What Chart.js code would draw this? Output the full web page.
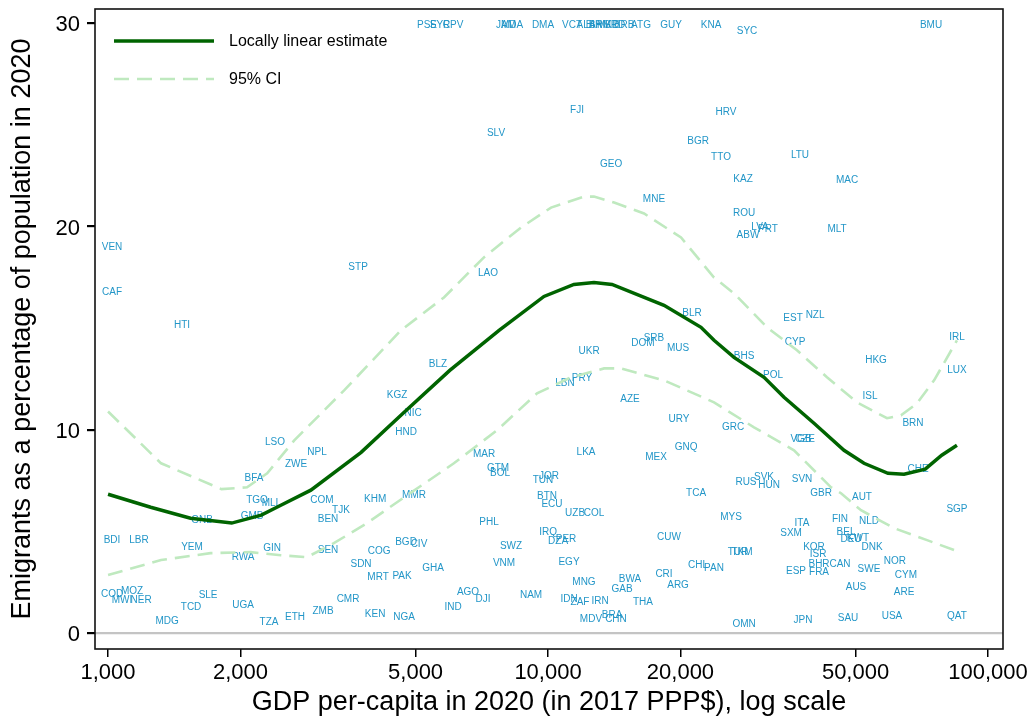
<!DOCTYPE html>
<html>
<head>
<meta charset="utf-8">
<script src="https://cdn.jsdelivr.net/npm/chart.js@4.4.1/dist/chart.umd.min.js"></script>
<style>
  html, body { margin: 0; padding: 0; background: #fff; }
  #wrap { width: 1031px; height: 719px; }
</style>
</head>
<body>
<div id="wrap"><canvas id="emigChart" width="1031" height="719"></canvas></div>
<script>
// Country codes, GDP per capita (2017 PPP$) and emigrant share (%)
const codes = [
  'PSE','SYR','CPV','JAM','MDA','DMA','VCT','ALB','BIH','ARM','MKD','GRD','BRB','ATG','GUY','KNA','SYC','BMU',
  'FJI','SLV','BGR','GEO','HRV','TTO','LTU','VEN','STP','CAF','HTI','MNE','LAO','BLR','KAZ','MAC','ROU','LVA',
  'PRT','ABW','MLT','EST','NZL','KGZ','HND','NIC','LSO','NPL','ZWE','BFA','BLZ','UKR','DOM','SRB','MUS','LBN',
  'PRY','AZE','URY','GNQ','LKA','MEX','MAR','GTM','BOL','JOR','TUN','TCA','IRL','CYP','BHS','HKG','LUX','POL',
  'ISL','BRN','GRC','CZE','VGB','CHE','RUS','SVK','HUN','SVN','TGO','MLI','COM','KHM','TJK','BEN','GNB','GMB',
  'BDI','LBR','YEM','GIN','RWA','SEN','COG','BGD','SDN','MRT','PAK','COD','MOZ','MWI','NER','SLE','TCD','UGA',
  'CMR','MDG','TZA','ETH','ZMB','KEN','NGA','MMR','BTN','ECU','UZB','COL','PHL','IRQ','DZA','PER','CIV','SWZ',
  'CUW','GHA','VNM','EGY','MNG','BWA','GAB','CRI','ARG','CHL','PAN','AGO','DJI','NAM','IND','IDN','ZAF','IRN',
  'THA','MDV','BRA','CHN','GBR','AUT','SGP','MYS','ITA','SXM','FIN','NLD','BEL','DEU','KWT','DNK','TUR','TKM',
  'KOR','ISR','BHR','CAN','ESP','FRA','SWE','NOR','CYM','AUS','ARE','OMN','JPN','SAU','USA','QAT'
];
const gdp = [
  5309, 5683, 6083, 8029, 8284, 9741, 11338, 12200, 12720, 13127, 13690, 14125, 14885, 16270, 19030, 23480, 28340, 74220,
  11640, 7618, 21930, 13910, 25380, 24730, 37390, 1021, 3701, 1021, 1473, 17410, 7305, 21250, 27750, 47810, 27900, 30330,
  31620, 28480, 45380, 36060, 40460, 4538, 4756, 4934, 2396, 2985, 2675, 2147, 5623, 12395, 16440, 17410, 19750, 10930,
  11950, 15360, 19850, 20590, 12200, 17600, 7153, 7698, 7780, 10050, 9741, 21700, 85020, 36430, 27900, 55660, 85020, 32460,
  53930, 67530, 26330, 38380, 37580, 69330, 28180, 30970, 31790, 37780, 2181, 2334, 3064, 4046, 3384, 3162, 1636, 2125,
  1021, 1176, 1552, 2359, 2027, 3162, 4131, 4756, 3758, 4109, 4658, 1021, 1134, 1076, 1189, 1688, 1544, 2027,
  3511, 1362, 2322, 2661, 3080, 4046, 4706, 4960, 9947, 10210, 11520, 12720, 7343, 10000, 10540, 10990, 5090, 8240,
  18840, 5479, 7943, 11160, 12070, 15360, 14730, 18350, 19750, 21930, 23840, 6579, 7116, 9150, 6083, 11160, 11820, 13127,
  16440, 12520, 13980, 14270, 41740, 51710, 85020, 26060, 37780, 35680, 46090, 53650, 47560, 48820, 50630, 54500, 27030, 27600,
  40230, 41090, 41300, 46090, 36610, 41300, 53650, 61450, 65100, 50120, 64440, 27900, 37970, 48060, 60490, 85020
];
const emig = [
  29.9, 29.9, 29.9, 29.9, 29.9, 29.9, 29.9, 29.9, 29.9, 29.9, 29.9, 29.9, 29.9, 29.9, 29.9, 29.9, 29.63, 29.9,
  25.7, 24.57, 24.18, 23.05, 25.6, 23.39, 23.49, 18.97, 17.99, 16.76, 15.13, 21.33, 17.69, 15.72, 22.31, 22.26, 20.64, 19.95,
  19.85, 19.56, 19.85, 15.48, 15.63, 11.7, 9.88, 10.81, 9.39, 8.89, 8.3, 7.62, 13.22, 13.86, 14.25, 14.5, 14.0, 12.29,
  12.53, 11.5, 10.52, 9.14, 8.89, 8.65, 8.8, 8.11, 7.86, 7.71, 7.52, 6.88, 14.55, 14.3, 13.61, 13.42, 12.92, 12.68,
  11.65, 10.32, 10.12, 9.53, 9.53, 8.06, 7.42, 7.67, 7.27, 7.57, 6.54, 6.39, 6.54, 6.58, 6.04, 5.6, 5.55, 5.75,
  4.57, 4.57, 4.23, 4.18, 3.73, 4.08, 4.03, 4.47, 3.39, 2.75, 2.8, 1.92, 2.06, 1.62, 1.62, 1.87, 1.28, 1.38,
  1.67, 0.59, 0.54, 0.79, 1.08, 0.93, 0.79, 6.78, 6.73, 6.34, 5.9, 5.9, 5.45, 4.96, 4.52, 4.62, 4.37, 4.28,
  4.72, 3.19, 3.44, 3.49, 2.5, 2.65, 2.16, 2.9, 2.36, 3.34, 3.19, 2.01, 1.67, 1.87, 1.28, 1.67, 1.52, 1.57,
  1.52, 0.69, 0.88, 0.69, 6.88, 6.68, 6.09, 5.7, 5.41, 4.91, 5.6, 5.5, 4.96, 4.62, 4.67, 4.23, 3.98, 3.98,
  4.23, 3.88, 3.39, 3.39, 3.05, 3.0, 3.14, 3.54, 2.85, 2.26, 2.01, 0.44, 0.64, 0.74, 0.84, 0.84
];

// Locally linear fit and its 95% band
const fitGdp = [1000, 1250, 1540, 1910, 2230, 2470, 2890, 3760, 4710, 5980, 7740, 9790, 11450, 12720, 13980,
  18350, 22270, 23840, 26470, 30970, 34390, 40230, 47070, 52260, 59240, 64440, 72000, 78500, 85000];
const fitY = [6.83, 6.19, 5.65, 5.41, 5.8, 6.29, 7.03, 8.89, 10.86, 12.92, 14.89, 16.56, 17.15, 17.25, 17.15,
  16.12, 15.04, 14.4, 13.56, 12.58, 11.6, 10.32, 8.99, 8.35, 7.86, 7.81, 8.06, 8.75, 9.24];
const ciHiGdp = [1000, 1320, 1810, 2070, 2300, 2650, 3440, 4630, 5800, 7150, 8680, 10160, 12070, 12720, 14130,
  16530, 20060, 23840, 26470, 31460, 36800, 43060, 50390, 58950, 63430, 68970, 75420, 85000];
const ciHiY = [10.9, 8.35, 7.08, 7.17, 7.86, 9.48, 11.94, 14.89, 16.51, 18.48, 19.95, 20.93, 21.47, 21.47, 21.18,
  20.64, 19.46, 17.49, 16.71, 15.04, 13.91, 12.58, 11.35, 10.57, 10.71, 11.3, 12.43, 14.4];
const ciLoGdp = [1000, 1320, 1710, 2110, 2470, 2830, 3260, 3880, 4710, 6110, 7660, 9440, 11280, 13410, 14650,
  18350, 23840, 29390, 36230, 43980, 46340, 51450, 61140, 72680, 85000];
const ciLoY = [2.85, 3.59, 3.93, 3.98, 3.83, 3.73, 4.42, 5.41, 6.68, 8.35, 9.98, 11.79, 12.58, 13.02, 13.02,
  12.43, 11.35, 10.12, 8.99, 7.17, 6.88, 6.04, 5.16, 4.57, 4.03];

const xTicks = [1000, 2000, 5000, 10000, 20000, 50000, 100000];
const yTicks = [0, 10, 20, 30];

const FONT = '"Liberation Sans", Arial, Helvetica, sans-serif';
const labelColor = '#2396c8';
const fitColor = '#006400';
const ciColor = '#bfe9bf';

const toPoints = (xs, ys) => xs.map((x, i) => ({ x, y: ys[i] }));

// country codes written at each point (drawn under the fit lines)
const countryLabels = {
  id: 'countryLabels',
  beforeDatasetsDraw(chart) {
    const meta = chart.getDatasetMeta(0);
    const ctx = chart.ctx;
    ctx.save();
    ctx.font = '10px ' + FONT;
    ctx.fillStyle = labelColor;
    ctx.textAlign = 'center';
    ctx.textBaseline = 'middle';
    meta.data.forEach((pt, i) => ctx.fillText(codes[i], pt.x, pt.y));
    ctx.restore();
  }
};

// box around the plot region plus the legend in its top-left corner
const frameAndKey = {
  id: 'frameAndKey',
  afterDraw(chart) {
    const { ctx, chartArea: a } = chart;
    ctx.save();
    ctx.strokeStyle = '#111';
    ctx.lineWidth = 1.6;
    ctx.strokeRect(a.left, a.top, a.right - a.left, a.bottom - a.top);

    const rows = [
      { ds: chart.data.datasets[1], y: a.top + 32 },
      { ds: chart.data.datasets[2], y: a.top + 70 }
    ];
    rows.forEach(r => {
      ctx.beginPath();
      ctx.setLineDash(r.ds.borderDash || []);
      ctx.strokeStyle = r.ds.borderColor;
      ctx.lineWidth = r.ds.borderWidth;
      ctx.moveTo(a.left + 19, r.y);
      ctx.lineTo(a.left + 119, r.y);
      ctx.stroke();
      ctx.setLineDash([]);
      ctx.fillStyle = '#000';
      ctx.font = '16px ' + FONT;
      ctx.textBaseline = 'middle';
      ctx.fillText(r.ds.label, a.left + 134, r.y + 1);
    });
    ctx.restore();
  }
};

new Chart(document.getElementById('emigChart'), {
  type: 'scatter',
  data: {
    datasets: [
      {
        label: 'Countries',
        data: toPoints(gdp, emig),
        pointRadius: 0,
        pointHoverRadius: 0
      },
      {
        label: 'Locally linear estimate',
        type: 'line',
        data: toPoints(fitGdp, fitY),
        borderColor: fitColor,
        borderWidth: 3.5,
        pointRadius: 0,
        tension: 0,
        fill: false
      },
      {
        label: '95% CI',
        type: 'line',
        data: toPoints(ciHiGdp, ciHiY),
        borderColor: ciColor,
        borderWidth: 2.6,
        borderDash: [15, 8],
        pointRadius: 0,
        tension: 0,
        fill: false
      },
      {
        label: '95% CI (lower)',
        type: 'line',
        data: toPoints(ciLoGdp, ciLoY),
        borderColor: ciColor,
        borderWidth: 2.6,
        borderDash: [15, 8],
        pointRadius: 0,
        tension: 0,
        fill: false
      }
    ]
  },
  options: {
    responsive: false,
    animation: false,
    events: [],
    layout: { padding: { left: 0, top: 9, right: 28, bottom: 0 } },
    plugins: {
      legend: { display: false },
      tooltip: { enabled: false }
    },
    scales: {
      x: {
        type: 'logarithmic',
        min: 934,
        max: 108170,
        afterBuildTicks: scale => { scale.ticks = xTicks.map(v => ({ value: v })); },
        afterFit: scale => {
          scale.height = 70;
          scale.paddingLeft = 0;
          scale.paddingRight = 0;
        },
        border: { display: false },
        grid: { drawOnChartArea: false, tickLength: 8, tickColor: '#000', lineWidth: 1.5 },
        ticks: {
          autoSkip: false,
          maxRotation: 0,
          padding: 3,
          color: '#000',
          font: { family: FONT, size: 22 },
          callback: v => Number(v).toLocaleString('en-US')
        },
        title: {
          display: true,
          text: 'GDP per-capita in 2020 (in 2017 PPP$), log scale',
          color: '#000',
          font: { family: FONT, size: 27 },
          padding: { top: 0, bottom: 0 }
        }
      },
      y: {
        min: -0.785,
        max: 30.7,
        afterBuildTicks: scale => { scale.ticks = yTicks.map(v => ({ value: v })); },
        afterFit: scale => {
          scale.width = 95;
          scale.paddingTop = 0;
          scale.paddingBottom = 0;
        },
        border: { display: false },
        grid: {
          color: c => (c.tick && c.tick.value === 0 ? '#c4c4c4' : 'rgba(0,0,0,0)'),
          lineWidth: 2.2,
          tickLength: 8,
          tickColor: '#000'
        },
        ticks: {
          padding: 7,
          labelOffset: 2,
          color: '#000',
          font: { family: FONT, size: 22 }
        },
        title: {
          display: true,
          text: 'Emigrants as a percentage of population in 2020',
          color: '#000',
          font: { family: FONT, size: 27 },
          padding: { top: 6, bottom: 0 }
        }
      }
    }
  },
  plugins: [countryLabels, frameAndKey]
});
</script>
</body>
</html>
